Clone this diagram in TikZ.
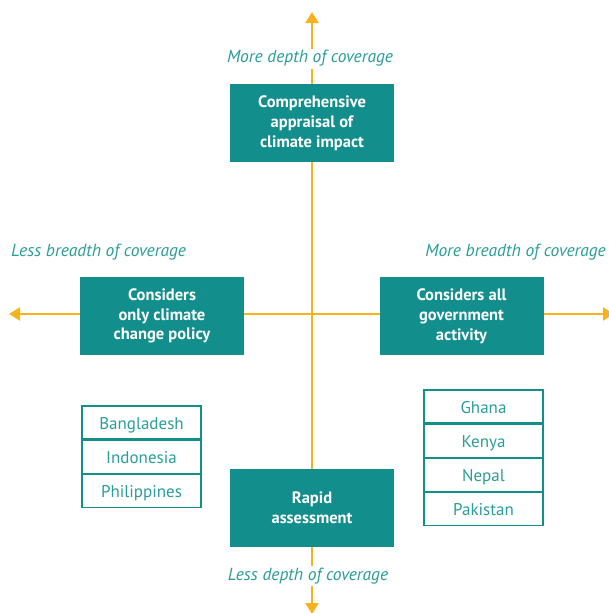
\documentclass[tikz,border=0pt]{standalone}
\usepackage{fontspec}
\setmainfont{PT Sans}
\usetikzlibrary{positioning,arrows.meta}
\definecolor{boxTeal}{HTML}{128F8D}
\definecolor{labelTeal}{HTML}{2A9D99}
\definecolor{axisGold}{HTML}{F7B21C}

\begin{document}
\begin{tikzpicture}[x=1pt, y=-1pt, >={Triangle[width=13pt,length=11pt]},
          axis/.style={->, axisGold, line width=2.4pt},
          scope box/.style={fill=boxTeal, text=white, minimum width=164pt, minimum height=78pt, font=\fontsize{16.5}{19.8}\selectfont\bfseries, align=center, inner sep=2pt},
          coverage/.style={fill=white, text=labelTeal, font=\fontsize{17.5}{19}\selectfont\itshape, inner sep=2pt, text height=12pt, text depth=4pt},
          country/.style={draw=boxTeal, line width=1.2pt, text=labelTeal, minimum width=119pt, minimum height=33pt, font=\fontsize{17}{19}\selectfont, inner sep=0pt, text height=13pt, text depth=0pt}]
        \useasboundingbox (0,0) rectangle (609,613);
        % axes meet here
        \coordinate (mid) at (312,314);
        \coordinate (tipN) at (312,12);
        \coordinate (tipS) at (312,614);
        \coordinate (tipW) at (9,314);
        \coordinate (tipE) at (614,314);
        \foreach \t in {tipN,tipS,tipW,tipE} {
          \draw[axis] (mid) -- (\t);
        }
        % the four approaches
        \node[scope box] (deep) at (312,123) {Comprehensive\\appraisal of\\climate impact};
        \node[scope box] (narrow) at (162,316) {Considers\\only climate\\change policy};
        \node[scope box] (broad) at (461.5,316) {Considers all\\government\\activity};
        \node[scope box] (rapid) at (312,508) {Rapid\\assessment};
        \node[coverage] (moreDepth) at (310,58.5) {More depth of coverage};
        \node[coverage] (lessDepth) at (308,576) {Less depth of coverage};
        \node[coverage, anchor=west, fill=none] (lessBreadth) at (9,252) {Less breadth of coverage};
        \node[coverage, anchor=east, fill=none] (moreBreadth) at (608,252) {More breadth of coverage};
        % countries
        \node[country] (bgd) at (141.5,422.5) {Bangladesh};
        \node[country, below=0pt of bgd] (idn) {Indonesia};
        \node[country, below=0pt of idn] (phl) {Philippines};
        \node[country] (gha) at (483.5,406.5) {Ghana};
        \node[country, below=0pt of gha] (ken) {Kenya};
        \node[country, below=0pt of ken] (npl) {Nepal};
        \node[country, below=0pt of npl] (pak) {Pakistan};
      \end{tikzpicture}
\end{document}
